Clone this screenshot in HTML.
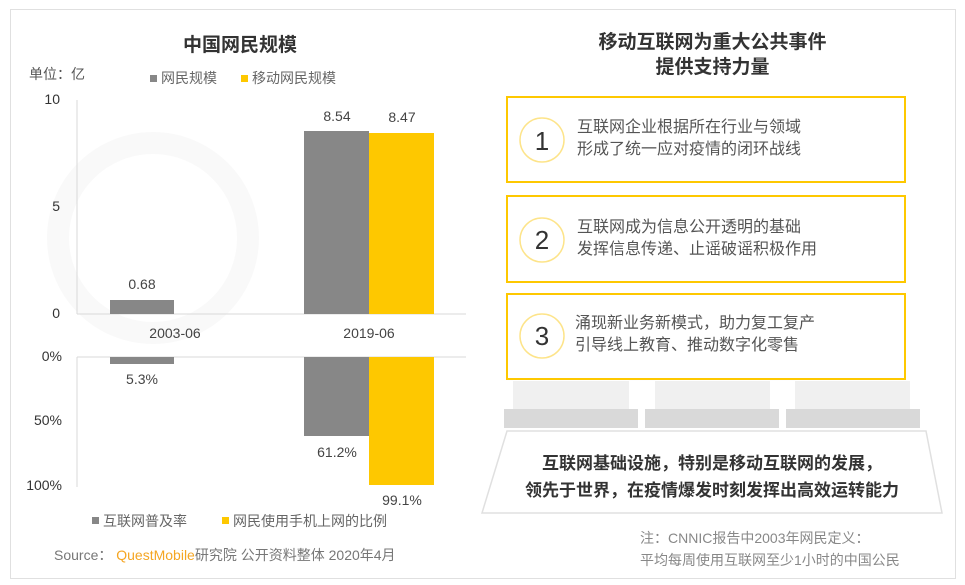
<!DOCTYPE html>
<html><head><meta charset="utf-8"><style>
body{margin:0;width:965px;height:585px;background:#fff;overflow:hidden;font-family:"Liberation Sans","Noto Sans CJK SC",sans-serif;}
.a{position:absolute;white-space:nowrap}
</style></head><body>
<div class="a" style="left:10px;top:9px;width:944px;height:568px;border:1px solid #e0e0e0;"></div>
<svg class="a" style="left:0;top:0" width="965" height="585">
<circle cx="153" cy="238" r="95" fill="none" stroke="#f9f9f9" stroke-width="22"/>
<line x1="77" y1="100" x2="77" y2="314" stroke="#d9d9d9"/>
<line x1="77" y1="314" x2="466" y2="314" stroke="#d9d9d9"/>
<line x1="77" y1="357" x2="77" y2="487" stroke="#d9d9d9"/>
<line x1="77" y1="357" x2="466" y2="357" stroke="#d9d9d9"/>
<rect x="110" y="300" width="64" height="14" fill="#878787"/>
<rect x="304" y="131" width="65" height="183" fill="#878787"/>
<rect x="369" y="133" width="65" height="181" fill="#fec800"/>
<rect x="110" y="357" width="64" height="7" fill="#878787"/>
<rect x="304" y="357" width="65" height="79" fill="#878787"/>
<rect x="369" y="357" width="65" height="128" fill="#fec800"/>
<rect x="150" y="75" width="7" height="7" fill="#878787"/>
<rect x="241" y="75" width="7" height="7" fill="#fec800"/>
<rect x="92" y="517" width="7" height="7" fill="#878787"/>
<rect x="222" y="517" width="7" height="7" fill="#fec800"/>
<g fill="none" stroke="#fec800" stroke-width="2">
<rect x="507" y="97" width="398" height="85"/>
<rect x="507" y="196" width="398" height="86"/>
<rect x="507" y="294" width="398" height="85"/>
</g>
<g fill="none" stroke="#fde48a" stroke-width="1.5">
<circle cx="542" cy="140" r="22"/><circle cx="542" cy="240" r="22"/><circle cx="542" cy="336" r="22"/>
</g>
<g fill="#f0f0f0"><rect x="513" y="381" width="116" height="28"/><rect x="655" y="381" width="115" height="28"/><rect x="795" y="381" width="115" height="28"/></g>
<g fill="#d9d9d9"><rect x="504" y="409" width="134" height="19"/><rect x="645" y="409" width="134" height="19"/><rect x="786" y="409" width="134" height="19"/></g>
<polygon points="507,431 926,431 942,513 482,513" fill="#fff" stroke="#e0e0e0" stroke-width="1.5"/>
</svg>
<div class="a" style="left:0;width:480px;top:30px;text-align:center;font-size:19px;font-weight:bold;color:#333">中国网民规模</div>
<div class="a" style="left:29px;top:64px;font-size:14px;color:#555">单位：亿</div>
<div class="a" style="left:161px;top:68px;font-size:14px;color:#666">网民规模</div>
<div class="a" style="left:252px;top:68px;font-size:14px;color:#666">移动网民规模</div>
<div class="a" style="left:40px;width:20px;text-align:right;top:91px;font-size:14px;color:#333">10</div>
<div class="a" style="left:40px;width:20px;text-align:right;top:198px;font-size:14px;color:#333">5</div>
<div class="a" style="left:40px;width:20px;text-align:right;top:305px;font-size:14px;color:#333">0</div>
<div class="a" style="left:20px;width:42px;text-align:right;top:348px;font-size:14px;color:#333">0%</div>
<div class="a" style="left:20px;width:42px;text-align:right;top:412px;font-size:14px;color:#333">50%</div>
<div class="a" style="left:20px;width:42px;text-align:right;top:477px;font-size:14px;color:#333">100%</div>
<div class="a" style="left:102px;width:80px;text-align:center;top:276px;font-size:14px;color:#444">0.68</div>
<div class="a" style="left:297px;width:80px;text-align:center;top:108px;font-size:14px;color:#444">8.54</div>
<div class="a" style="left:362px;width:80px;text-align:center;top:109px;font-size:14px;color:#444">8.47</div>
<div class="a" style="left:125px;width:100px;text-align:center;top:325px;font-size:14px;color:#444">2003-06</div>
<div class="a" style="left:319px;width:100px;text-align:center;top:325px;font-size:14px;color:#444">2019-06</div>
<div class="a" style="left:102px;width:80px;text-align:center;top:371px;font-size:14px;color:#444">5.3%</div>
<div class="a" style="left:297px;width:80px;text-align:center;top:444px;font-size:14px;color:#444">61.2%</div>
<div class="a" style="left:362px;width:80px;text-align:center;top:492px;font-size:14px;color:#444">99.1%</div>
<div class="a" style="left:103px;top:511px;font-size:14px;color:#666">互联网普及率</div>
<div class="a" style="left:233px;top:511px;font-size:14px;color:#666">网民使用手机上网的比例</div>
<div class="a" style="left:54px;top:545px;font-size:14px;color:#777">Source：&nbsp;<span style="color:#f5a623">QuestMobile</span>研究院 公开资料整体 2020年4月</div>
<div class="a" style="left:480px;width:465px;top:30px;text-align:center;font-size:19px;font-weight:bold;color:#333;line-height:25px">移动互联网为重大公共事件<br>提供支持力量</div>
<div class="a" style="left:520px;width:44px;text-align:center;top:126px;font-size:26px;color:#333">1</div>
<div class="a" style="left:520px;width:44px;text-align:center;top:225px;font-size:26px;color:#333">2</div>
<div class="a" style="left:520px;width:44px;text-align:center;top:321px;font-size:26px;color:#333">3</div>
<div class="a" style="left:577px;top:117px;font-size:16px;line-height:22px;color:#555">互联网企业根据所在行业与领域<br>形成了统一应对疫情的闭环战线</div>
<div class="a" style="left:577px;top:217px;font-size:16px;line-height:22px;color:#555">互联网成为信息公开透明的基础<br>发挥信息传递、止谣破谣积极作用</div>
<div class="a" style="left:575px;top:313px;font-size:16px;line-height:22px;color:#555">涌现新业务新模式，助力复工复产<br>引导线上教育、推动数字化零售</div>
<div class="a" style="left:482px;width:460px;top:450px;text-align:center;font-size:17px;font-weight:bold;line-height:27px;color:#333">互联网基础设施，特别是移动互联网的发展，<br>领先于世界，在疫情爆发时刻发挥出高效运转能力</div>
<div class="a" style="left:640px;top:527px;font-size:14px;line-height:22px;color:#888">注：CNNIC报告中2003年网民定义：<br>平均每周使用互联网至少1小时的中国公民</div>
</body></html>
